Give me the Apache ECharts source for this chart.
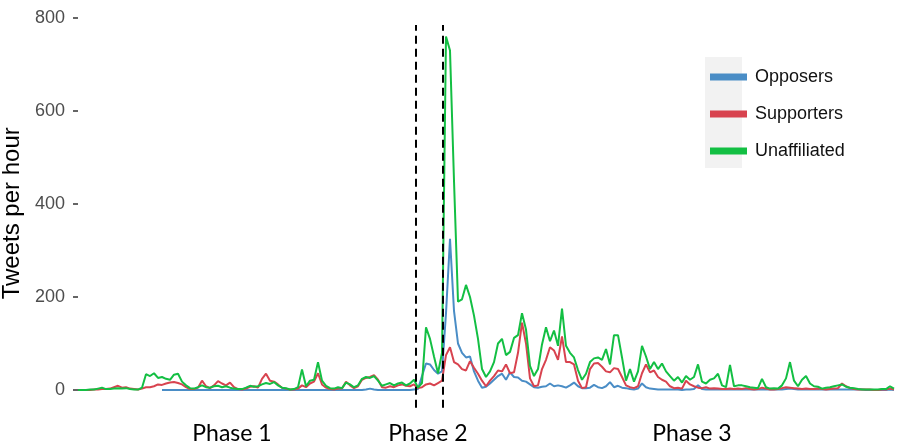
<!DOCTYPE html>
<html>
<head>
<meta charset="utf-8">
<script src="https://cdn.jsdelivr.net/npm/echarts@6/dist/echarts.min.js"></script>
<style>
  html, body { margin: 0; padding: 0; background: #fff; }
  #main { width: 897px; height: 445px; }
</style>
</head>
<body>
<div id="main"></div>
<script>
// hourly buckets, 4px each in the picture
var opposers = [
  null, null, null, null, null, null, null, null, null, null,
  null, null, null, null, null, null, null, null, null, null,
  null, 0, 0, 0, 0, 0, 0, 0, 0, 0,
  0, 0, 0, 0, 0, 0, 0, 0, 0, 0,
  0, 0, 0, 0, 0, 0, 0, 0, 0, 0,
  0, 0, 0, 0, 0, 0, 0, 0, 0, 0,
  0, 0, 0, 0, 0, 0, 0, 0, 0, 0,
  0, 0, 1, 3, 1, 0, 0, 0, 0, 0,
  0, 0, 0, 0, 1, 2, 30, 57, 55, 43,
  35, 40, 165, 325, 170, 100, 80, 70, 72, 40,
  20, 5, 7, 14, 22, 30, 35, 22, 38, 28,
  27, 20, 18, 12, 6, 5, 7, 8, 14, 8,
  10, 8, 5, 10, 16, 8, 4, 4, 5, 11,
  6, 4, 8, 17, 6, 9, 5, 4, 2, 1,
  3, 14, 6, 3, 2, 1, 1, 1, 1, 1,
  1, 0, 1, 1, 2, 10, 2, 1, 1, 1,
  1, 1, 1, 1, 1, 1, 1, 1, 1, 1,
  1, 1, 1, 1, 1, 1, 1, 2, 3, 2,
  1, 1, 1, 1, 1, 1, 1, 1, 1, 1,
  1, 1, 1, 1, 1, 1, 1, 0, 0, 0,
  0, 0, 0, 1, 0
];
var supporters = [
  0, 0, 0, 0, 1, 1, 2, 2, 3, 6,
  9, 5, 6, 3, 2, 1, 3, 6, 6, 8,
  12, 11, 14, 16, 17, 15, 12, 6, 2, 2,
  5, 20, 8, 4, 10, 19, 14, 10, 16, 6,
  2, 1, 3, 7, 8, 5, 24, 35, 20, 18,
  12, 5, 3, 1, 1, 3, 10, 6, 14, 18,
  36, 12, 5, 2, 1, 3, 3, 18, 10, 4,
  8, 22, 26, 28, 32, 22, 6, 5, 8, 6,
  10, 12, 9, 8, 12, 4, 6, 12, 14, 10,
  15, 20, 75, 92, 60, 55, 45, 42, 62, 48,
  35, 20, 8, 20, 30, 42, 40, 55, 36, 38,
  80, 145, 100, 25, 8, 10, 45, 65, 92, 85,
  65, 115, 60, 60, 55, 20, 4, 6, 45, 57,
  58, 50, 40, 38, 47, 45, 28, 10, 6, 4,
  8, 36, 55, 38, 42, 28, 22, 18, 8, 4,
  5, 3, 20, 12, 8, 5, 4, 6, 3, 4,
  3, 2, 2, 3, 2, 3, 2, 4, 2, 1,
  2, 5, 3, 1, 1, 2, 4, 6, 5, 4,
  3, 2, 3, 2, 2, 3, 2, 1, 2, 3,
  4, 14, 8, 4, 2, 1, 1, 1, 1, 0,
  0, 1, 1, 3, 1
];
var unaffiliated = [
  0, 0, 0, 1, 1, 3, 5, 2, 2, 3,
  4, 3, 4, 2, 1, 1, 5, 34, 30, 36,
  26, 28, 24, 22, 33, 35, 18, 10, 4, 3,
  6, 10, 6, 5, 8, 9, 6, 8, 5, 3,
  2, 2, 5, 9, 7, 8, 12, 15, 13, 17,
  10, 5, 4, 1, 2, 6, 44, 8, 20, 22,
  60, 20, 9, 4, 3, 6, 4, 16, 12, 6,
  10, 24, 28, 26, 30, 20, 9, 12, 15, 10,
  14, 16, 10, 14, 22, 5, 15, 135, 110, 72,
  36, 80, 760, 730, 450, 190, 195, 226, 200, 160,
  110, 45, 28, 40, 60, 100, 110, 75, 82, 112,
  118, 165, 130, 52, 30, 45, 98, 135, 105, 128,
  95, 175, 95, 80, 70, 43, 22, 35, 60, 68,
  70, 65, 88, 55, 118, 118, 70, 20, 45, 18,
  40, 95, 72, 45, 60, 45, 57, 40, 30, 20,
  28, 16, 30, 22, 28, 55, 18, 14, 22, 25,
  35, 10, 6, 54, 8, 10, 10, 8, 6, 5,
  4, 24, 6, 3, 4, 3, 10, 25, 60, 20,
  8, 22, 30, 14, 8, 7, 3, 5, 6, 8,
  10, 12, 7, 5, 4, 2, 1, 1, 1, 1,
  1, 2, 2, 8, 3
];
var yTicks = [0, 200, 400, 600, 800];
var phaseNames = ['Phase 1', 'Phase 2', 'Phase 3'];
var phaseCenters = [38.5, 87.5, 153.5];
var phaseBreaks = [84.5, 91.25];

function pairs(arr) {
  return arr.map(function (v, i) { return [i, v]; });
}

var chartDom = document.getElementById('main');
var myChart = echarts.init(chartDom, null, { renderer: 'canvas' });
var option;

var lineBase = { type: 'line', showSymbol: false, symbol: 'none', connectNulls: false, animation: false };

option = {
  animation: false,
  grid: {
    left: 78,
    right: 0,
    top: 18,
    bottom: 36.4,
    containLabel: false,
    outerBoundsMode: 'none'
  },
  legend: {
    orient: 'vertical',
    left: 705,
    top: 62,
    icon: 'rect',
    itemWidth: 37,
    itemHeight: 7,
    itemGap: 17,
    data: ['Opposers', 'Supporters', 'Unaffiliated'],
    textStyle: {
      fontFamily: 'Liberation Sans',
      fontSize: 18,
      color: '#111',
      padding: [0, 0, 0, 3],
      lineHeight: 20
    }
  },
  graphic: [{
    type: 'rect',
    left: 705,
    top: 57,
    z: -1,
    shape: { width: 37, height: 111 },
    style: { fill: '#f2f2f2' }
  }],
  xAxis: {
    type: 'value',
    min: 0,
    max: 204.75,
    axisLine: { show: false },
    axisTick: { show: false },
    splitLine: { show: false },
    axisLabel: {
      customValues: phaseCenters,
      formatter: function (v) {
        var k = phaseCenters.indexOf(v);
        return k >= 0 ? phaseNames[k] : '';
      },
      margin: 13,
      fontFamily: 'Lato',
      fontSize: 23,
      color: '#000'
    }
  },
  yAxis: {
    type: 'value',
    min: -40,
    max: 800,
    name: 'Tweets per hour',
    nameLocation: 'middle',
    nameGap: 41,
    nameTextStyle: { fontFamily: 'Liberation Sans', fontSize: 24, color: '#000' },
    axisLine: { show: false },
    splitLine: { show: false },
    axisTick: {
      show: true,
      length: 5,
      customValues: yTicks,
      lineStyle: { color: '#333', width: 1.5 }
    },
    axisLabel: {
      customValues: yTicks,
      margin: 13,
      fontFamily: 'Liberation Sans',
      fontSize: 18,
      color: '#4d4d4d'
    }
  },
  series: [
    Object.assign({}, lineBase, {
      name: 'Opposers',
      data: pairs(opposers),
      color: '#4a8dc6',
      lineStyle: { width: 2, color: '#4a8dc6' }
    }),
    Object.assign({}, lineBase, {
      name: 'Supporters',
      data: pairs(supporters),
      color: '#d8434f',
      lineStyle: { width: 2, color: '#d8434f' }
    }),
    Object.assign({}, lineBase, {
      name: 'Unaffiliated',
      data: pairs(unaffiliated),
      color: '#13bf43',
      lineStyle: { width: 2, color: '#13bf43' },
      markLine: {
        silent: true,
        symbol: 'none',
        label: { show: false },
        lineStyle: { color: '#000', type: [8, 5], width: 2 },
        data: phaseBreaks.map(function (b) {
          return [{ coord: [b, -38] }, { coord: [b, 785] }];
        })
      }
    })
  ]
};

option && myChart.setOption(option);
</script>
</body>
</html>
